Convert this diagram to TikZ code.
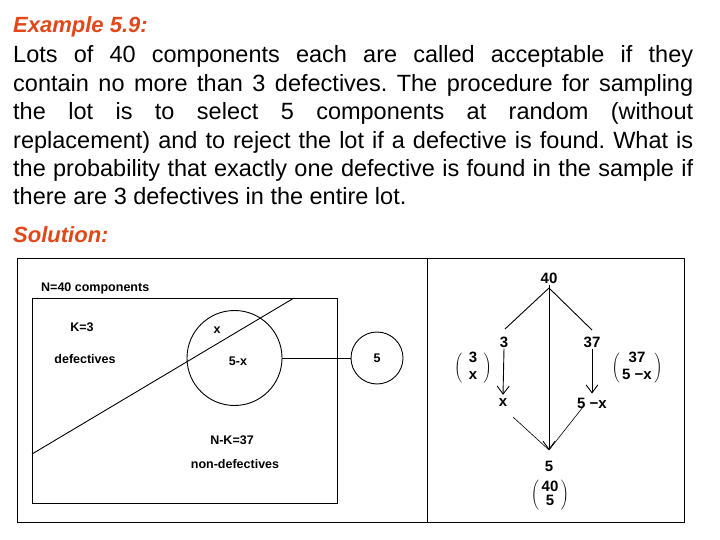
\documentclass[tikz,border=0pt]{standalone}
\usepackage{fontspec}
\setmainfont{Liberation Sans}
\usepackage{xcolor}
\usetikzlibrary{positioning, arrows.meta}
\definecolor{headred}{HTML}{E0481A}
\frenchspacing

\begin{document}
\begin{tikzpicture}[ x=1pt, y=-1pt, heading/.style={ anchor=base west, inner sep=0pt, text=headred, font=\fontsize{22}{25}\selectfont\bfseries\itshape }, body/.style={ anchor=base west, inner sep=0pt, text width=680pt, align=justify, font=\fontsize{23.5}{28.4}\selectfont }, lbl/.style={ inner sep=1pt, font=\fontsize{12.5}{14}\selectfont\bfseries }, num/.style={ inner sep=1pt, font=\fontsize{15}{16}\selectfont\bfseries }, ring/.style={ circle, draw, line width=0.9pt }, link/.style={ line width=0.9pt }, arrow/.style={ -{Straight Barb[length=8pt, width=12pt]}, line width=0.9pt } ]
\useasboundingbox (0,0) rectangle (720,540);

% --- Testo ---
\node[heading] (title) at (13,33) {Example 5.9:};

\node[body] (task) at (13,63) {Lots of 40 components each are called acceptable if they\linebreak
contain no more than 3 defectives. The procedure for sampling\linebreak
the lot is to select 5 components at random (without\linebreak
replacement) and to reject the lot if a defective is found. What is\linebreak
the probability that exactly one defective is found in the sample if\linebreak
there are 3 defectives in the entire lot.};

\node[heading] (sol) at (13,242) {Solution:};


% --- Cornice ---
\node[draw, line width=0.8pt, minimum width=667pt, minimum height=264pt, inner sep=0pt] (frame) at (350.5,390) {};
\coordinate (divtop) at (427,258);
\coordinate (divbot) at (427,522);
\draw[line width=0.8pt] (divtop) -- (divbot);


% --- Lotto (sinistra) ---
\node[lbl, anchor=base west] (ntot) at (40,291) {N=40 components};

\node[draw, line width=0.9pt, minimum width=305pt, minimum height=205pt, inner sep=0pt] (lot) at (184.5,400.5) {};

\coordinate (cutA) at (32,454);
\coordinate (cutB) at (294,298);
\draw[link] (cutA) -- (cutB);

\node[ring, minimum size=95pt] (sample) at (234.5,358) {};
\node[ring, minimum size=52pt] (five) at (377,358) {};
\node[lbl] at (five) {5};
\draw[link] (sample.east) -- (five.west);

\node[lbl] (inx) at (217,330) {x};
\node[lbl] (inrest) at (238,361) {5-x};

\node[lbl] (kdef) at (82,327) {K=3};
\node[lbl] (kname) at (85,359) {defectives};
\node[lbl] (nkdef) at (232,440) {N-K=37};
\node[lbl] (nkname) at (235,464) {non-defectives};


% --- Albero (destra) ---
\node[num] (n40) at (549,278) {40};
\node[num] (n3) at (504,342) {3};
\node[num] (n37) at (592,342) {37};
\node[num] (nx) at (503,403) {x};
\node[num] (n5x) at (592,403) {5 −x};
\node[num] (n5) at (549,466) {5};

\node[num] (bx) at (473,368) {$\left(\;\begin{tabular}{@{\,}c@{\,}}3\\[1pt]x\end{tabular}\;\right)$};
\node[num] (b37) at (637,368) {$\left(\begin{tabular}{@{\,}c@{\,}}37\\[1pt]5 −x\end{tabular}\right)$};
\node[num] (b40) at (550,495) {$\left(\begin{tabular}{@{\,}c@{\,}}40\\[-2pt]5\end{tabular}\right)$};

\coordinate (apex) at (549,288);
\coordinate (lup) at (505,329);
\coordinate (rup) at (592,330);
\coordinate (ldown) at (513,417);
\coordinate (rdown) at (583,407);
\coordinate (vtip) at (549,450);

\draw[link] (apex) -- (lup); \draw[link] (apex) -- (rup); \draw[arrow] (n40.south) -- (vtip); \draw[arrow] (n3.south) -- ([yshift=3pt]nx.north); \draw[arrow] (n37.south) -- ([yshift=3pt]n37.south |- n5x.north); \draw[line width=0.6pt] (ldown) -- (vtip); \draw[line width=0.6pt] (rdown) -- (vtip);
\end{tikzpicture}
\end{document}
